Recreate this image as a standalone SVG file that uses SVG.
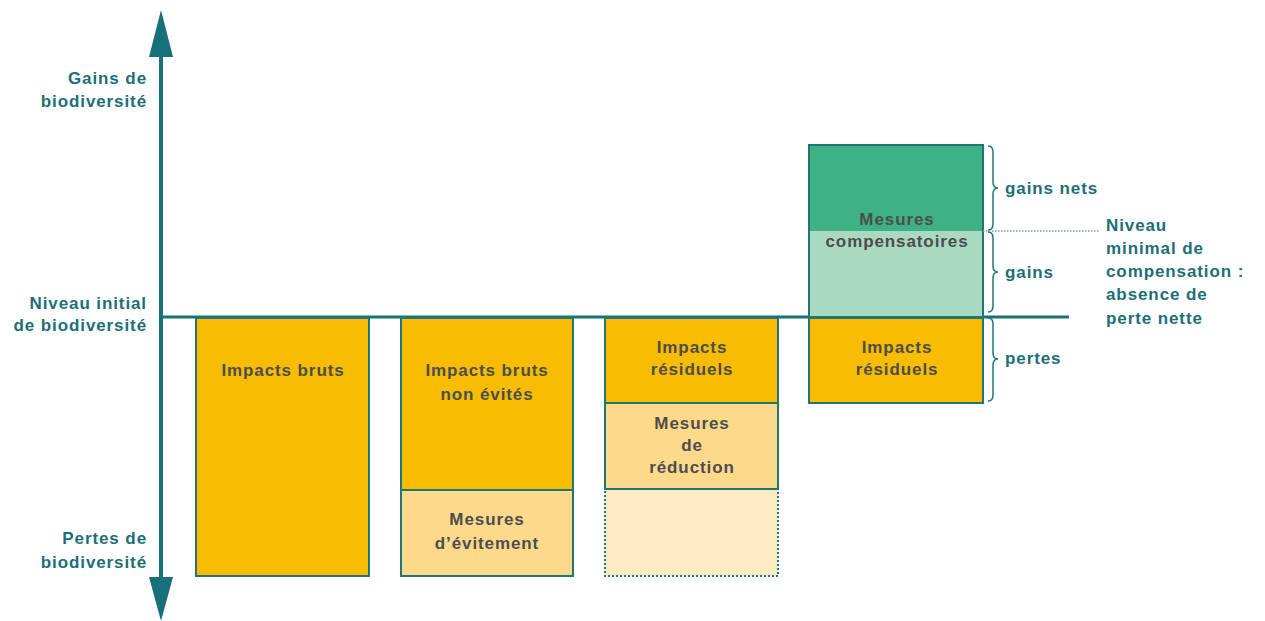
<svg xmlns="http://www.w3.org/2000/svg" width="1265" height="621" viewBox="0 0 1265 621">
<style>
.lbl{font-family:"Liberation Sans",Arial,sans-serif;font-weight:bold;font-size:17px;letter-spacing:0.9px;fill:#1d6f76}
.box{font-family:"Liberation Sans",Arial,sans-serif;font-weight:bold;font-size:17px;letter-spacing:0.9px;fill:#4d4d4d;text-anchor:middle}
.r{text-anchor:end}
.bx{stroke:#1f7677;stroke-width:2}
.or{fill:#f8bc00}
.lo{fill:#fdd98c}
.vlo{fill:#feebc4}
.gr{fill:#3eb285}
.lg{fill:#a9d9c1}
.brace{fill:none;stroke:#1f7677;stroke-width:1.5}
</style>
<rect width="1265" height="621" fill="#ffffff"/>
<g id="axes">
<line x1="161" y1="50" x2="161" y2="585" stroke="#18707a" stroke-width="4"/>
<polygon points="161,10 173,57 149,57" fill="#18707a"/>
<polygon points="161,621 173,577 149,577" fill="#18707a"/>
<line x1="161" y1="317" x2="1069" y2="317" stroke="#18707a" stroke-width="3"/>
</g>
<g id="axis-labels">
<text class="lbl r" x="147" y="84">Gains de</text>
<text class="lbl r" x="147" y="107">biodiversité</text>
<text class="lbl r" x="147" y="309">Niveau initial</text>
<text class="lbl r" x="147" y="331">de biodiversité</text>
<text class="lbl r" x="147" y="544">Pertes de</text>
<text class="lbl r" x="147" y="568">biodiversité</text>
</g>
<g id="col1">
<rect class="bx or" x="196" y="318" width="173" height="258"/>
<text class="box" x="283" y="376">Impacts bruts</text>
</g>
<g id="col2">
<rect class="bx or" x="401" y="318" width="172" height="172"/>
<text class="box" x="487" y="376">Impacts bruts</text>
<text class="box" x="487" y="400">non évités</text>
<rect class="bx lo" x="401" y="490" width="172" height="86"/>
<text class="box" x="487" y="525">Mesures</text>
<text class="box" x="487" y="549">d’évitement</text>
</g>
<g id="col3">
<rect class="vlo" x="605" y="489" width="173" height="87" stroke="#1f7677" stroke-width="2" stroke-dasharray="2,2"/>
<rect class="bx or" x="605" y="318" width="173" height="85"/>
<text class="box" x="692" y="353">Impacts</text>
<text class="box" x="692" y="375">résiduels</text>
<rect class="bx lo" x="605" y="403" width="173" height="86"/>
<text class="box" x="692" y="429">Mesures</text>
<text class="box" x="692" y="451">de</text>
<text class="box" x="692" y="473">réduction</text>
</g>
<g id="col4">
<rect class="gr" x="809" y="145" width="174" height="86"/>
<rect class="lg" x="809" y="231" width="174" height="86"/>
<rect x="809" y="145" width="174" height="172" fill="none" stroke="#1f7677" stroke-width="2"/>
<text class="box" x="897" y="225">Mesures</text>
<text class="box" x="897" y="247">compensatoires</text>
<rect class="bx or" x="809" y="318" width="174" height="85"/>
<text class="box" x="897" y="353">Impacts</text>
<text class="box" x="897" y="375">résiduels</text>
</g>
<g id="braces">
<path class="brace" d="M988,146 q5,0 5,6 v30 q0,6 5,6 q-5,0 -5,6 v30 q0,6 -5,6"/>
<path class="brace" d="M988,232 q5,0 5,6 v28 q0,6 5,6 q-5,0 -5,6 v28 q0,6 -5,6"/>
<path class="brace" d="M988,318 q5,0 5,6 v29 q0,6 5,6 q-5,0 -5,6 v30 q0,6 -5,6"/>
<line x1="983" y1="231" x2="1100" y2="231" stroke="#8a9a9a" stroke-width="1.5" stroke-dasharray="1.5,1.5"/>
</g>
<g id="right-labels">
<text class="lbl" x="1005" y="194">gains nets</text>
<text class="lbl" x="1005" y="278">gains</text>
<text class="lbl" x="1005" y="364">pertes</text>
<text class="lbl" x="1106" y="231">Niveau</text>
<text class="lbl" x="1106" y="254">minimal de</text>
<text class="lbl" x="1106" y="277">compensation :</text>
<text class="lbl" x="1106" y="300">absence de</text>
<text class="lbl" x="1106" y="324">perte nette</text>
</g>
</svg>
